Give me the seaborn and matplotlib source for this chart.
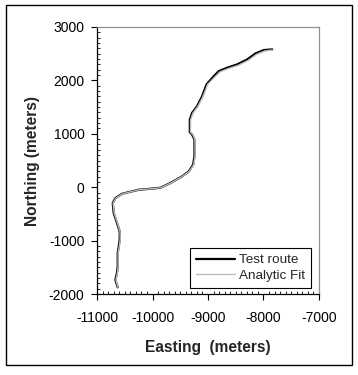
import pandas as pd
import matplotlib.pyplot as plt
import seaborn as sns
from matplotlib.ticker import MultipleLocator
from matplotlib.patches import Rectangle

# Test route (easting, northing in meters)
route_east = [-10627, -10669, -10640, -10627, -10627, -10609, -10591, -10591, -10639,
              -10699, -10717, -10669, -10549, -10398, -10248, -10038, -9857, -9677,
              -9466, -9346, -9268, -9244, -9244, -9244, -9286, -9328, -9328, -9286,
              -9196, -9105, -9027, -8895, -8805, -8654, -8474, -8293, -8143, -7992, -7842]
route_north = [-1875, -1737, -1600, -1487, -1237, -1111, -986, -830, -673,
               -486, -298, -204, -123, -85, -48, -29, -10, 78,
               203, 297, 422, 578, 766, 891, 985, 1029, 1266, 1392,
               1517, 1705, 1924, 2080, 2174, 2237, 2299, 2393, 2506, 2568, 2581]

# Analytic fit, sits a touch east/south of the route in the upper part
fit_east = [-10622, -10660, -10632, -10620, -10620, -10600, -10582, -10585, -10632,
            -10690, -10710, -10660, -10540, -10390, -10240, -10030, -9850, -9670,
            -9460, -9338, -9258, -9234, -9234, -9236, -9274, -9316, -9314, -9270,
            -9180, -9088, -9008, -8874, -8784, -8634, -8456, -8276, -8128, -7980, -7842]
fit_north = [-1875, -1737, -1600, -1487, -1237, -1111, -986, -830, -673,
             -486, -298, -204, -123, -85, -48, -29, -10, 78,
             203, 297, 422, 578, 766, 891, 985, 1029, 1266, 1392,
             1517, 1705, 1924, 2068, 2160, 2222, 2282, 2375, 2486, 2550, 2570]

df_route = pd.DataFrame({"Easting": route_east, "Northing": route_north})
df_fit = pd.DataFrame({"Easting": fit_east, "Northing": fit_north})

sns.set_style("white")
plt.rcParams["font.family"] = ["Liberation Sans", "DejaVu Sans"]
plt.rcParams["axes.unicode_minus"] = False

fig = plt.figure(figsize=(3.58, 3.75), dpi=100)
ax = fig.add_axes([0.271, 0.216, 0.62, 0.712])

sns.lineplot(data=df_route, x="Easting", y="Northing", sort=False, estimator=None,
             color="black", linewidth=1.6, label="Test route", ax=ax, zorder=2)
sns.lineplot(data=df_fit, x="Easting", y="Northing", sort=False, estimator=None,
             color="#bdbdbd", linewidth=1.0, label="Analytic Fit", ax=ax, zorder=3)

ax.set_xlim(-11000, -7000)
ax.set_ylim(-2000, 3000)
ax.xaxis.set_major_locator(MultipleLocator(1000))
ax.yaxis.set_major_locator(MultipleLocator(1000))
ax.xaxis.set_minor_locator(MultipleLocator(100))
ax.yaxis.set_minor_locator(MultipleLocator(100))
ax.tick_params(which="major", direction="out", length=4, width=0.8, colors="black",
               labelsize=10, bottom=True, left=True, pad=5)
ax.tick_params(which="minor", direction="in", length=2.5, width=0.6, colors="black",
               bottom=True, left=True)
ax.tick_params(axis="x", which="major", pad=8)

for side in ["left", "bottom"]:
    ax.spines[side].set_color("black")
    ax.spines[side].set_linewidth(0.9)
for side in ["top", "right"]:
    ax.spines[side].set_color("#909090")
    ax.spines[side].set_linewidth(0.9)

ax.set_xlabel("Easting  (meters)", fontsize=11.2, fontweight="bold", labelpad=11)
ax.set_ylabel("Northing (meters)", fontsize=11.2, fontweight="bold", labelpad=6)

leg = ax.legend(loc="lower right", fontsize=9.7,
                frameon=True, fancybox=False, edgecolor="black", framealpha=1,
                borderpad=0.45, handlelength=2.9, handletextpad=0.3,
                labelspacing=0.25, borderaxespad=0, bbox_to_anchor=(0.964, 0.022))
leg.get_frame().set_linewidth(0.8)

# outer chart border
fig.patches.append(Rectangle((0.017, 0.027), 0.966, 0.96, transform=fig.transFigure,
                             fill=False, edgecolor="black", linewidth=1.0))

plt.savefig("out.png", dpi=100)
plt.close()
